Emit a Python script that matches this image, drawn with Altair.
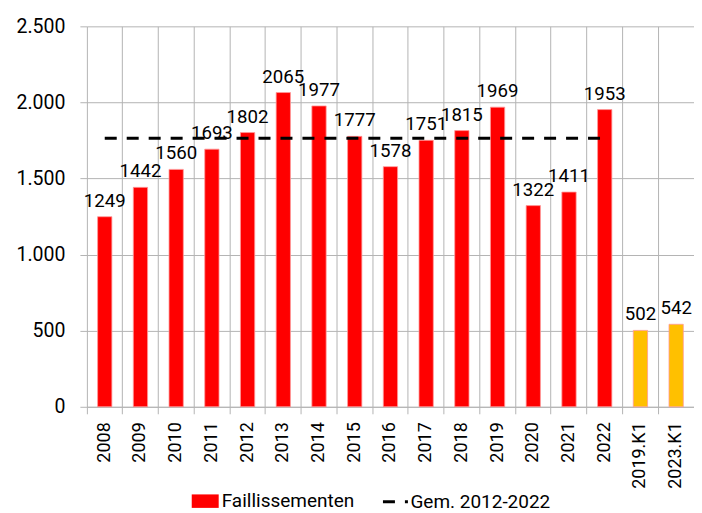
import altair as alt
import pandas as pd

categories = ["2008", "2009", "2010", "2011", "2012", "2013", "2014", "2015",
              "2016", "2017", "2018", "2019", "2020", "2021", "2022",
              "2019.K1", "2023.K1"]
values = [1249, 1442, 1560, 1693, 1802, 2065, 1977, 1777, 1578, 1751,
          1815, 1969, 1322, 1411, 1953, 502, 542]
groups = ["Faillissementen"] * 15 + ["K1", "K1"]
avg_categories = categories[:15]
avg_value = 1765

bars = pd.DataFrame({"cat": categories, "val": values, "grp": groups})
avg = pd.DataFrame({"cat": avg_categories, "val": [avg_value] * len(avg_categories),
                    "serie": ["Gem. 2012-2022"] * len(avg_categories)})

FONT = "Roboto"
GRID = "#b4b4b4"
FS = 18.7
LFS = 19

x_enc = alt.X("cat:N", sort=categories, title=None,
              scale=alt.Scale(paddingInner=0, paddingOuter=0),
              axis=alt.Axis(labelAngle=270, labelFontSize=18, labelFont=FONT,
                            labelColor="black", bandPosition=0, grid=True,
                            gridColor=GRID, tickColor=GRID, tickSize=7,
                            domainColor=GRID, labelPadding=8))
y_enc = alt.Y("val:Q", title=None,
              scale=alt.Scale(domain=[0, 2500], nice=False),
              axis=alt.Axis(values=[0, 500, 1000, 1500, 2000, 2500],
                            labelExpr="replace(format(datum.value, ','), ',', '.')",
                            labelFontSize=19.5, labelFont=FONT, labelColor="black",
                            gridColor=GRID, tickColor=GRID, tickSize=7,
                            domain=False, labelPadding=15))

bar_layer = alt.Chart(bars).mark_bar(width=alt.RelativeBandSize(0.4), stroke="#ff9a9a",
                                     strokeWidth=0.8).encode(
    x=x_enc, y=y_enc,
    color=alt.Color("grp:N", scale=alt.Scale(domain=["Faillissementen", "K1"],
                                             range=["#ff0000", "#ffc000"]),
                    legend=alt.Legend(title=None, values=["Faillissementen"],
                                      symbolType="M-1,-0.5H1V0.5H-1Z", symbolSize=729,
                                      symbolStrokeWidth=0, labelFontSize=LFS,
                                      labelFont=FONT, labelColor="black",
                                      labelOffset=3, padding=0,
                                      orient="none", legendX=105, legendY=462))
)

text_layer = alt.Chart(bars).mark_text(baseline="alphabetic", dy=-10, fontSize=FS,
                                       font=FONT, color="black").encode(
    x=alt.X("cat:N", sort=categories), y="val:Q", text="val:Q")

line_layer = alt.Chart(avg).mark_line(color="black", strokeWidth=3).encode(
    x=alt.X("cat:N", sort=categories), y="val:Q",
    strokeDash=alt.StrokeDash("serie:N",
                              scale=alt.Scale(domain=["Gem. 2012-2022"], range=[[12, 10]]),
                              legend=alt.Legend(title=None, symbolType="stroke",
                                                symbolStrokeColor="black",
                                                symbolStrokeWidth=3, symbolSize=625,
                                                symbolDash=[9, 14],
                                                labelFontSize=LFS, labelFont=FONT,
                                                labelColor="black", labelOffset=1,
                                                padding=0,
                                                orient="none", legendX=295, legendY=462))
)

chart = alt.layer(bar_layer, line_layer, text_layer).properties(
    width=608, height=381,
    padding={"left": 8, "top": 8, "right": 0, "bottom": 0}
).configure_view(strokeWidth=0)

chart.save("out.html", embed_options={"renderer": "svg", "actions": False})
